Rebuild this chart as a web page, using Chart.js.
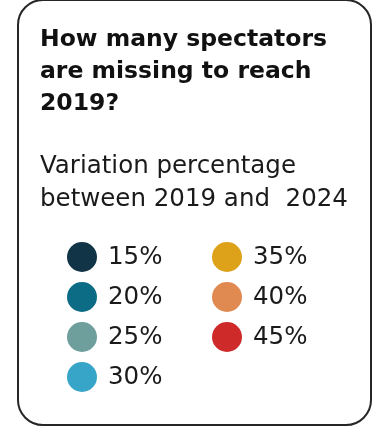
<!DOCTYPE html>
<html>
<head>
<meta charset="utf-8">
<script src="https://cdn.jsdelivr.net/npm/chart.js@4/dist/chart.umd.min.js"></script>
<style>
  html, body { margin: 0; padding: 0; background: #fff; }
  #wrap { position: relative; width: 375px; height: 431px; overflow: hidden; }
  #card {
    position: absolute; left: 17px; top: -1px; width: 355px; height: 427px;
    box-sizing: border-box; border: 2px solid #262626; border-radius: 26px;
  }
  #box { position: absolute; left: 0; top: 0; width: 375px; height: 431px; }
</style>
</head>
<body>
<div id="wrap">
  <div id="card"></div>
  <div id="box"><canvas id="myChart"></canvas></div>
</div>
<script>
var titleLines = ["How many spectators", "are missing to reach", "2019?"];
var subtitleLines = ["Variation percentage", "between 2019 and  2024"];
var categories = ["15%", "20%", "25%", "30%", "35%", "40%", "45%"];
var colors = ["#113446", "#0c6b85", "#6e9f9d", "#37a5c8", "#dea11a", "#e08a51", "#cf2a2a"];

// legend laid out in columns of 4, like the printed card
var gridLegend = {
  id: "gridLegend",
  afterDraw: function (chart, args, opts) {
    var ctx = chart.ctx;
    var area = chart.chartArea;
    ctx.save();
    ctx.font = opts.fontSize + "px " + opts.fontFamily;
    ctx.textBaseline = "middle";
    ctx.textAlign = "left";
    chart.data.datasets.forEach(function (ds, i) {
      var col = Math.floor(i / opts.rows);
      var row = i % opts.rows;
      var cx = area.left + opts.offsetX + col * opts.colWidth;
      var cy = area.top + opts.offsetY + row * opts.rowHeight;
      ctx.beginPath();
      ctx.arc(cx, cy, opts.radius, 0, Math.PI * 2);
      ctx.fillStyle = ds.backgroundColor;
      ctx.fill();
      ctx.fillStyle = opts.color;
      ctx.fillText(ds.label, cx + opts.textGap, cy + 1);
    });
    ctx.restore();
  },
};

var datasets = categories.map(function (c, i) {
  return { label: c, data: [], backgroundColor: colors[i] };
});

var ctx = document.getElementById("myChart").getContext("2d");
var myChart = new Chart(ctx, {
  type: "bar",
  data: { labels: [], datasets: datasets },
  options: {
    responsive: true,
    maintainAspectRatio: false,
    animation: false,
    events: [],
    layout: { padding: { left: 40, right: 20, top: 0, bottom: 10 } },
    scales: { x: { display: false }, y: { display: false } },
    plugins: {
      legend: { display: false },
      tooltip: { enabled: false },
      title: {
        display: true,
        text: titleLines,
        align: "start",
        color: "#111111",
        font: { family: "DejaVu Sans", size: 23.5, weight: "bold", lineHeight: "32px" },
        padding: { top: 24, bottom: 0 },
      },
      subtitle: {
        display: true,
        text: subtitleLines,
        align: "start",
        color: "#1a1a1a",
        font: { family: "DejaVu Sans", size: 24.5, weight: "normal", lineHeight: "33px" },
        padding: { top: 30, bottom: 16 },
      },
      gridLegend: {
        rows: 4,
        offsetX: 42,
        offsetY: 25,
        colWidth: 145,
        rowHeight: 40,
        radius: 15,
        textGap: 26,
        fontSize: 24.5,
        fontFamily: "DejaVu Sans",
        color: "#1a1a1a",
      },
    },
  },
  plugins: [gridLegend],
});
</script>
</body>
</html>
